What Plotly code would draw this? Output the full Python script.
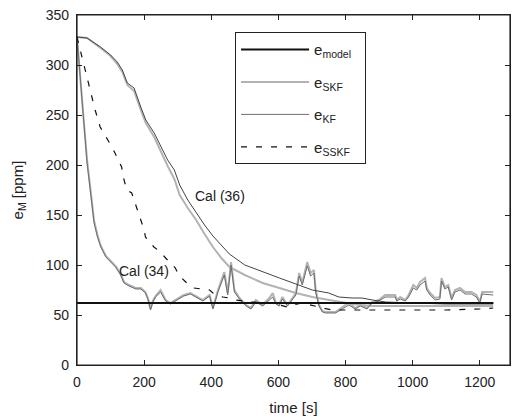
import plotly.graph_objects as go

# ---------------- data ----------------
t_model = [0, 1240]
e_model = [62, 62]

# Cal (34): fast converging filters (SKF light, KF dark), noisy after convergence
t_34 = [0, 10, 20, 30, 36, 46, 51, 61, 71, 86, 100, 115, 130, 140, 155, 175, 190, 204, 212, 219, 226,
        234, 249, 264, 278, 298, 318, 338, 357, 375, 395, 405, 420, 439, 449, 459, 469, 484, 504, 518,
        533, 553, 573, 583, 593, 602, 612, 627, 632, 652, 662, 671, 686, 696, 706, 711, 721, 731, 741,
        770, 800, 810, 829, 844, 864, 879, 899, 918, 948, 953, 963, 978, 988, 1002, 1012, 1022, 1037,
        1042, 1052, 1067, 1081, 1086, 1096, 1106, 1116, 1126, 1141, 1156, 1175, 1190, 1200, 1207, 1240]
e_skf_34 = [328, 290, 245, 205, 188, 157, 144, 130, 119, 109, 104, 99, 91, 83, 80, 77, 77, 73, 66, 56, 64,
            69, 75, 65, 62, 66, 70, 72, 68, 65, 70, 57, 75, 93, 72, 103, 75, 67, 60, 57,
            65, 60, 67, 72, 62, 60, 68, 60, 62, 72, 92, 82, 103, 92, 95, 75, 60, 54, 53,
            53, 60, 62, 57, 60, 57, 63, 65, 70, 70, 65, 68, 65, 70, 80, 77, 83, 87,
            77, 72, 67, 68, 87, 78, 80, 67, 75, 77, 73, 73, 70, 63, 73, 73]
e_kf_34 = [328, 285, 240, 202, 185, 155, 142, 128, 118, 108, 103, 98, 90, 82, 79, 76, 76, 72, 65, 55, 63,
           68, 73, 64, 61, 65, 69, 71, 67, 64, 69, 56, 73, 90, 70, 100, 73, 66, 59, 56,
           63, 59, 65, 68, 61, 59, 66, 59, 61, 70, 89, 80, 99, 89, 92, 73, 59, 53, 52,
           52, 58, 60, 56, 59, 56, 62, 64, 68, 68, 64, 66, 64, 68, 77, 75, 80, 84,
           75, 70, 65, 66, 84, 76, 78, 65, 73, 75, 71, 71, 68, 62, 71, 70]

# Cal (36): slowly converging filters
t_36 = [0, 30, 70, 100, 120, 135, 150, 170, 190, 205, 230, 250, 270, 290, 306, 330, 355, 380, 405,
        430, 454, 500, 553, 603, 652, 701, 750, 780, 820, 849, 880, 920, 1000, 1100, 1240]
e_kf_36 = [328, 327, 318, 310, 303, 295, 282, 277, 258, 245, 232, 218, 205, 195, 180, 165, 152, 140, 129,
           120, 111, 100, 93, 87, 81, 75, 72, 68, 67, 67, 65, 63, 62, 61, 61]
e_skf_36 = [328, 327, 317, 309, 301, 293, 280, 274, 255, 242, 228, 213, 199, 186, 170, 157, 145, 131, 118,
            107, 98, 90, 82, 77, 72, 68, 65, 63, 61, 60, 59, 59, 59, 59, 59]

# SSKF (dashed)
t_sskf = [0, 15, 39, 44, 54, 69, 84, 104, 113, 133, 138, 148, 163, 180, 190, 200, 204, 229, 249, 264,
          293, 303, 333, 348, 395, 405, 434, 454, 474, 520, 580, 627, 642, 671, 720, 760, 800, 900,
          1000, 1100, 1200, 1240]
e_sskf = [328, 308, 277, 268, 255, 238, 230, 218, 212, 198, 188, 175, 172, 155, 145, 135, 128, 118, 113, 107,
          97, 90, 80, 77, 75, 72, 68, 67, 65, 63, 62, 58, 60, 62, 58, 55, 55, 55,
          55, 55, 56, 57]

x_ticks = [0, 200, 400, 600, 800, 1000, 1200]
y_ticks = [0, 50, 100, 150, 200, 250, 300, 350]
x_range = [0, 1290]
y_range = [0, 350]

# ---------------- figure ----------------
FONT = "Liberation Sans, Arial, sans-serif"
INK = "#222222"
c_skf = "#b3b3b3"
c_kf = "#6e6e6e"
PAD = "\u00a0" * 2

fig = go.Figure()
fig.add_trace(go.Scatter(x=t_model, y=e_model, mode="lines", name="e<sub>model</sub>" + PAD,
                         line=dict(color="#111111", width=2), legendgroup="a"))
fig.add_trace(go.Scatter(x=t_34, y=e_skf_34, mode="lines", name="e<sub>SKF</sub>",
                         line=dict(color=c_skf, width=2), legendgroup="b"))
fig.add_trace(go.Scatter(x=t_36, y=e_skf_36, mode="lines", name="e<sub>SKF</sub>",
                         line=dict(color=c_skf, width=2), legendgroup="b", showlegend=False))
fig.add_trace(go.Scatter(x=t_34, y=e_kf_34, mode="lines", name="e<sub>KF</sub>",
                         line=dict(color=c_kf, width=1), legendgroup="c"))
fig.add_trace(go.Scatter(x=t_36, y=e_kf_36, mode="lines", name="e<sub>KF</sub>",
                         line=dict(color="#444444", width=1), legendgroup="c", showlegend=False))
fig.add_trace(go.Scatter(x=t_sskf, y=e_sskf, mode="lines", name="e<sub>SSKF</sub>",
                         line=dict(color="#111111", width=1.2, dash="6px,9px"), legendgroup="d"))
# re-draw model on top
fig.add_trace(go.Scatter(x=t_model, y=e_model, mode="lines", showlegend=False, legendgroup="a",
                         line=dict(color="#111111", width=2), hoverinfo="skip"))

fig.add_annotation(x=345, y=169, text="Cal (36)", showarrow=False, xanchor="left",
                   font=dict(family=FONT, size=14, color=INK))
fig.add_annotation(x=120, y=94, text="Cal (34)", showarrow=False, xanchor="left",
                   font=dict(family=FONT, size=14, color=INK))

# frame around the plot area
fig.add_shape(type="rect", xref="paper", yref="paper", x0=0, x1=1, y0=0, y1=1,
              line=dict(color=INK, width=1.2), layer="above")

axis_common = dict(showgrid=False, zeroline=False, showline=True, linecolor=INK, linewidth=1.2,
                   ticks="inside", ticklen=5, tickwidth=1, tickcolor=INK, mirror="allticks",
                   tickfont=dict(family=FONT, size=14, color=INK))

fig.update_layout(
    width=512, height=418,
    margin=dict(l=77, r=2, t=15, b=53),
    paper_bgcolor="white", plot_bgcolor="white",
    font=dict(family=FONT, size=14, color=INK),
    showlegend=True,
    legend=dict(x=0.365, y=0.951, xanchor="left", yanchor="top",
                bordercolor=INK, borderwidth=1, bgcolor="white",
                font=dict(family=FONT, size=15, color=INK),
                traceorder="grouped", tracegroupgap=10, itemwidth=68),
    xaxis=dict(range=x_range, tickvals=x_ticks, ticklabelstandoff=4,
               title=dict(text="time [s]", standoff=13, font=dict(family=FONT, size=15)),
               **axis_common),
    yaxis=dict(range=y_range, tickvals=y_ticks, ticklabelstandoff=4,
               title=dict(text="e<sub>M</sub> [ppm]", standoff=18, font=dict(family=FONT, size=15)),
               **axis_common),
    xaxis2=dict(range=x_range, tickvals=x_ticks, overlaying="x", side="top", anchor="y",
                showticklabels=False, showgrid=False, zeroline=False, showline=False,
                ticks="inside", ticklen=5, tickwidth=1, tickcolor=INK),
    yaxis2=dict(range=y_range, tickvals=y_ticks, overlaying="y", side="right", anchor="x",
                showticklabels=False, showgrid=False, zeroline=False, showline=False,
                ticks="inside", ticklen=5, tickwidth=1, tickcolor=INK),
)

fig.write_html("out.html")
